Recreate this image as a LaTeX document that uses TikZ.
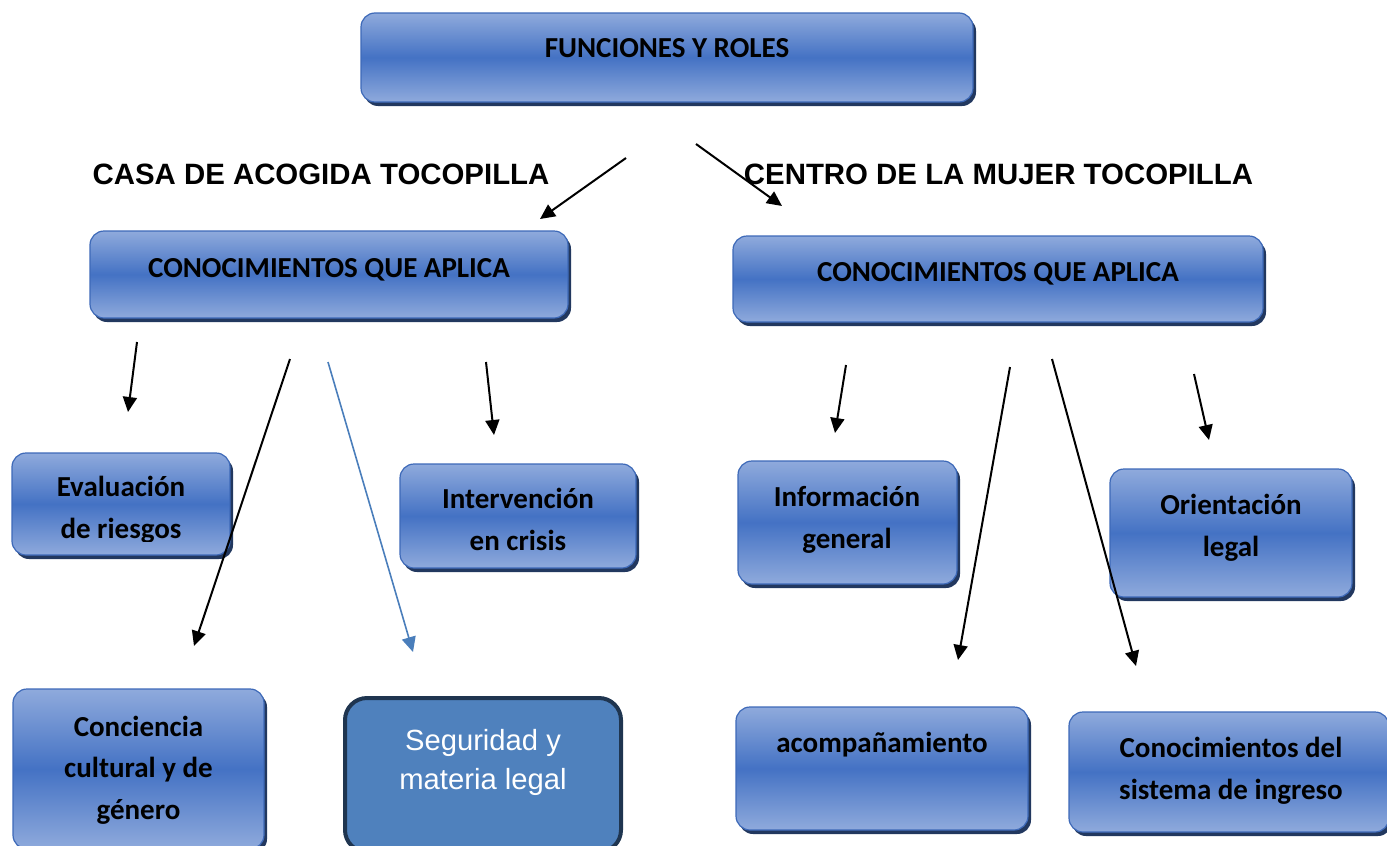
\documentclass[tikz,border=0pt]{standalone}
\usepackage{fontspec}
\setmainfont{Carlito}
\newfontfamily\arialf{Liberation Sans}
\usetikzlibrary{arrows.meta,shadows}
\definecolor{lb}{HTML}{8FAADC}
\definecolor{mb}{HTML}{4472C4}
\definecolor{bordc}{HTML}{3D69B8}
\definecolor{shc}{HTML}{22385F}
\definecolor{segfill}{HTML}{4F81BD}
\definecolor{segbord}{HTML}{1F3550}
\definecolor{bluearr}{HTML}{4A7EBB}
\tikzset{
  gbox/.style={rectangle, rounded corners=14pt, draw=bordc, line width=1.2pt,
    top color=lb, bottom color=lb, middle color=mb, inner sep=0pt,
    drop shadow={shadow xshift=3pt, shadow yshift=-4pt, fill=shc, opacity=1}},
  segbox/.style={rectangle, rounded corners=22pt, draw=segbord, line width=4pt,
    fill=segfill, inner sep=0pt},
  btxt/.style={font=\bfseries\fontsize{29}{41.5}\selectfont, align=center, inner sep=0pt, anchor=base, text=black},
  htxt/.style={font=\arialf\bfseries\fontsize{29.4}{34}\selectfont, inner sep=0pt, anchor=base, text=black},
  stxt/.style={font=\arialf\fontsize{29.2}{39}\selectfont, align=center, inner sep=0pt, anchor=base, text=white},
  arr/.style={draw=black, line width=2pt, -{Triangle[length=15pt,width=14pt]}},
  barr/.style={draw=bluearr, line width=1.6pt, -{Triangle[length=15pt,width=14pt]}}
}
\begin{document}
\begin{tikzpicture}[x=1pt,y=-1pt]
\useasboundingbox (0,0) rectangle (1387,846);

% boxes
\node[gbox, minimum width=612pt, minimum height=89pt] (top) at (667,57.5) {};
\node[gbox, minimum width=478pt, minimum height=87pt] (lk) at (329,274.5) {};
\node[gbox, minimum width=530pt, minimum height=86pt] (rk) at (998,279) {};
\node[gbox, minimum width=218pt, minimum height=102pt] (eva) at (121,504) {};
\node[gbox, minimum width=236pt, minimum height=104pt] (int) at (518,516) {};
\node[gbox, minimum width=219pt, minimum height=123pt] (inf) at (847.5,522.5) {};
\node[gbox, minimum width=242pt, minimum height=128pt] (ori) at (1231,533) {};
\node[gbox, minimum width=251pt, minimum height=160pt] (con) at (138.5,769) {};
\node[segbox, minimum width=276pt, minimum height=154pt] (seg) at (483,775) {};
\node[gbox, minimum width=292pt, minimum height=123pt] (aco) at (882,768.5) {};
\node[gbox, minimum width=320pt, minimum height=120pt] (sis) at (1229,772) {};

% texts (base anchor = baseline of last line)
\node[btxt] (ttop) at (667,57) {FUNCIONES Y ROLES};
\node[btxt] (tlk) at (329,277) {CONOCIMIENTOS QUE APLICA};
\node[btxt] (trk) at (998,281) {CONOCIMIENTOS QUE APLICA};
\begin{scope}
\clip (0,440) rectangle (240,541);
\node[btxt] (teva) at (121,538) {Evaluación\\de riesgos};
\end{scope}
\node[btxt] (tint) at (518,550) {Intervención\\en crisis};
\node[btxt] (tinf) at (847,548) {Información\\general};
\node[btxt] (tori) at (1231,556) {Orientación\\legal};
\node[btxt] (tcon) at (138.5,819) {Conciencia\\cultural y de\\género};
\node[stxt] (tseg) at (483,789) {Seguridad y\\materia legal};
\node[btxt] (taco) at (882,752) {acompañamiento};
\node[btxt] (tsis) at (1231,799) {Conocimientos del\\sistema de ingreso};

\node[htxt] (hcasa) at (321,184) {CASA DE ACOGIDA TOCOPILLA};
\node[htxt] (hcen) at (998.5,184) {CENTRO DE LA MUJER TOCOPILLA};

% arrow end points
\coordinate (a1s) at (626,158); \coordinate (a1e) at (540,219);
\coordinate (a2s) at (696,144); \coordinate (a2e) at (782,206);
\coordinate (a3s) at (137,342); \coordinate (a3e) at (128,412);
\coordinate (a4s) at (290,359); \coordinate (a4e) at (194,646);
\coordinate (a5s) at (328,362); \coordinate (a5e) at (413,652);
\coordinate (a6s) at (486,362); \coordinate (a6e) at (494,435);
\coordinate (a7s) at (846,365); \coordinate (a7e) at (835,433);
\coordinate (a8s) at (1010,367); \coordinate (a8e) at (958,660);
\coordinate (a9s) at (1052,359); \coordinate (a9e) at (1136,666);
\coordinate (a10s) at (1194,374); \coordinate (a10e) at (1209,440);

\draw[arr] (a1s) -- (a1e);
\draw[arr] (a2s) -- (a2e);
\draw[arr] (a3s) -- (a3e);
\draw[arr] (a4s) -- (a4e);
\draw[barr] (a5s) -- (a5e);
\draw[arr] (a6s) -- (a6e);
\draw[arr] (a7s) -- (a7e);
\draw[arr] (a8s) -- (a8e);
\draw[arr] (a9s) -- (a9e);
\draw[arr] (a10s) -- (a10e);
\end{tikzpicture}
\end{document}
